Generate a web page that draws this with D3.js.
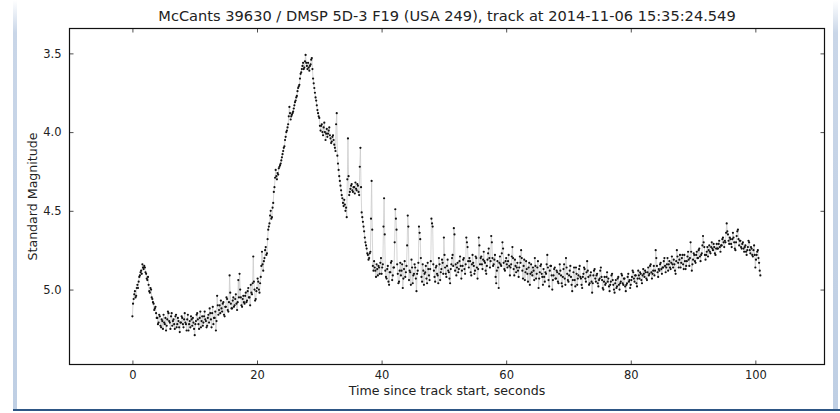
<!DOCTYPE html>
<html lang="en">
  <head>
    <meta charset="UTF-8" />
    <title>McCants 39630 track</title>
    <script src="https://cdn.jsdelivr.net/npm/d3@7"></script>
    <style>
      body { margin: 0; background: #fff; }
      text { font-family: "DejaVu Sans", sans-serif; fill: #222; }
    </style>
  </head>

  <body>
    <script>
      const width = 840;
      const height = 413;

      const title = "McCants 39630 / DMSP 5D-3 F19 (USA 249), track at 2014-11-06 15:35:24.549";
      const xLabel = "Time since track start, seconds";
      const yLabel = "Standard Magnitude";
      const xTicks = [0, 20, 40, 60, 80, 100];
      const yTicks = [3.5, 4.0, 4.5, 5.0];

      // samples are 0.1 s apart, starting at t = 0
      const sampleStart = 0;
      const sampleStep = 0.1;

      // magnitudes, one row per 2 seconds
      const magnitudes = [
        5.17, 5.09, 5.06, 5.03, 5.01, 5.05, 5.04, 4.99, 4.97, 4.99, 4.95, 4.92, 4.91, 4.89, 4.88, 4.90, 4.84, 4.86, 4.87, 4.85,
        4.86, 4.89, 4.90, 4.93, 4.94, 4.92, 4.97, 5.01, 5.02, 4.99, 5.00, 5.05, 5.06, 5.08, 5.09, 5.13, 5.12, 5.11, 5.15, 5.18,
        5.18, 5.22, 5.21, 5.16, 5.17, 5.23, 5.24, 5.19, 5.20, 5.25, 5.16, 5.21, 5.22, 5.18, 5.26, 5.23, 5.19, 5.14, 5.15, 5.20,
        5.21, 5.25, 5.17, 5.15, 5.23, 5.20, 5.19, 5.22, 5.25, 5.17, 5.16, 5.24, 5.22, 5.18, 5.20, 5.24, 5.27, 5.21, 5.21, 5.17,
        5.18, 5.22, 5.24, 5.19, 5.15, 5.21, 5.22, 5.26, 5.19, 5.16, 5.26, 5.22, 5.20, 5.24, 5.17, 5.19, 5.23, 5.18, 5.21, 5.25,
        5.29, 5.22, 5.20, 5.16, 5.15, 5.19, 5.22, 5.25, 5.18, 5.14, 5.24, 5.20, 5.17, 5.23, 5.21, 5.17, 5.14, 5.19, 5.20, 5.24,
        5.23, 5.18, 5.16, 5.21, 5.12, 5.15, 5.19, 5.24, 5.15, 5.11, 5.22, 5.18, 5.18, 5.14, 5.26, 5.20, 5.04, 5.10, 5.16, 5.13,
        5.10, 5.15, 5.07, 5.12, 5.14, 5.09, 5.08, 5.16, 5.17, 5.11, 5.11, 5.05, 5.06, 5.13, 5.14, 5.08, 4.91, 5.02, 5.09, 5.12,
        5.12, 5.07, 5.05, 5.11, 5.10, 5.06, 5.03, 5.09, 5.13, 5.08, 4.94, 5.05, 4.90, 5.00, 5.05, 5.10, 5.11, 5.06, 5.04, 5.08,
        5.09, 5.04, 5.02, 5.08, 5.07, 5.01, 4.99, 5.05, 5.05, 5.10, 4.97, 5.02, 5.03, 4.96, 4.79, 4.95, 5.00, 5.07, 5.06, 5.01,
        4.99, 4.93, 4.95, 5.00, 5.02, 4.96, 4.92, 4.85, 4.76, 4.84, 4.88, 4.82, 4.80, 4.75, 4.73, 4.78, 4.77, 4.68, 4.62, 4.60,
        4.58, 4.53, 4.50, 4.55, 4.54, 4.48, 4.45, 4.38, 4.35, 4.29, 4.24, 4.28, 4.30, 4.26, 4.27, 4.23, 4.22, 4.21, 4.20, 4.18,
        4.16, 4.14, 4.12, 4.10, 4.09, 4.05, 4.03, 4.00, 3.99, 3.97, 3.95, 3.90, 3.84, 3.88, 3.92, 3.90, 3.89, 3.88, 3.87, 3.85,
        3.83, 3.81, 3.80, 3.78, 3.77, 3.74, 3.72, 3.71, 3.70, 3.66, 3.63, 3.62, 3.60, 3.58, 3.56, 3.60, 3.59, 3.55, 3.51, 3.56,
        3.58, 3.60, 3.56, 3.59, 3.61, 3.58, 3.57, 3.54, 3.53, 3.60, 3.66, 3.69, 3.72, 3.75, 3.78, 3.80, 3.83, 3.86, 3.88, 3.90,
        3.91, 3.96, 3.99, 3.96, 3.95, 4.00, 4.02, 3.97, 3.94, 4.00, 4.05, 4.01, 3.98, 4.03, 4.01, 3.99, 3.97, 4.02, 4.04, 4.07,
        4.06, 4.03, 4.02, 4.05, 4.08, 4.10, 4.12, 3.95, 3.88, 4.15, 4.20, 4.24, 4.28, 4.31, 4.34, 4.37, 4.40, 4.42, 4.45, 4.47,
        4.43, 4.46, 4.50, 4.48, 4.54, 4.30, 4.04, 4.28, 4.40, 4.38, 4.36, 4.34, 4.33, 4.37, 4.38, 4.35, 4.35, 4.39, 4.32, 4.36,
        4.37, 4.33, 4.34, 4.38, 4.40, 4.22, 4.10, 4.35, 4.51, 4.54, 4.57, 4.60, 4.63, 4.67, 4.70, 4.72, 4.74, 4.77, 4.78, 4.81,
        4.80, 4.77, 4.76, 4.55, 4.31, 4.62, 4.85, 4.88, 4.82, 4.86, 4.88, 4.92, 4.84, 4.87, 4.91, 4.85, 4.86, 4.90, 4.83, 4.80,
        4.90, 4.86, 4.84, 4.60, 4.42, 4.65, 4.88, 4.92, 4.93, 4.87, 4.85, 4.95, 4.97, 4.89, 4.89, 4.83, 4.82, 4.94, 4.91, 4.86,
        4.86, 4.70, 4.49, 4.55, 4.62, 4.84, 4.90, 4.96, 4.95, 4.88, 4.83, 4.91, 4.88, 4.84, 4.99, 4.93, 4.87, 4.82, 4.92, 4.89,
        4.85, 4.72, 4.53, 4.60, 4.94, 4.88, 4.89, 4.97, 4.81, 4.86, 4.96, 4.91, 4.90, 4.84, 4.86, 4.93, 5.01, 4.90, 4.88, 4.83,
        4.60, 4.64, 4.68, 4.80, 4.92, 4.95, 4.84, 4.88, 4.97, 4.90, 4.89, 4.85, 4.93, 4.96, 4.83, 4.87, 4.91, 4.94, 4.87, 4.82,
        4.55, 4.58, 4.60, 4.84, 4.88, 4.92, 4.95, 4.86, 4.85, 4.90, 4.91, 4.96, 4.80, 4.84, 4.94, 4.89, 4.87, 4.81, 4.83, 4.90,
        4.67, 4.78, 4.86, 4.90, 4.92, 4.85, 4.81, 4.88, 4.89, 4.93, 4.96, 4.87, 4.84, 4.80, 4.78, 4.85, 4.61, 4.65, 4.88, 4.84,
        4.91, 4.86, 4.83, 4.89, 4.87, 4.82, 4.79, 4.85, 4.93, 4.88, 4.85, 4.81, 4.80, 4.87, 4.90, 4.84, 4.67, 4.70, 4.73, 4.82,
        4.86, 4.80, 4.82, 4.89, 4.91, 4.84, 4.78, 4.83, 4.85, 4.90, 4.88, 4.79, 4.80, 4.86, 4.93, 4.87, 4.67, 4.72, 4.84, 4.80,
        4.79, 4.84, 4.87, 4.81, 4.76, 4.82, 4.83, 4.88, 4.90, 4.85, 4.81, 4.77, 4.74, 4.80, 4.86, 4.82, 4.66, 4.70, 4.80, 4.85,
        4.84, 4.81, 4.78, 4.92, 4.96, 4.88, 4.82, 4.86, 4.99, 4.83, 4.79, 4.84, 4.85, 4.77, 4.70, 4.74, 4.83, 4.87, 4.88, 4.82,
        4.80, 4.84, 4.86, 4.82, 4.78, 4.85, 4.91, 4.86, 4.84, 4.79, 4.73, 4.80, 4.87, 4.91, 4.81, 4.85, 4.89, 4.86, 4.83, 4.88,
        4.92, 4.86, 4.79, 4.83, 4.75, 4.80, 4.88, 4.93, 4.85, 4.81, 4.94, 4.89, 4.82, 4.87, 4.90, 4.95, 4.86, 4.83, 4.97, 4.90,
        4.84, 4.89, 4.91, 4.86, 4.88, 4.94, 4.80, 4.85, 4.93, 4.90, 4.86, 4.82, 4.99, 4.93, 4.89, 4.85, 4.84, 4.90, 4.92, 4.97,
        4.87, 4.92, 4.95, 4.89, 4.90, 4.84, 4.78, 4.86, 4.94, 4.98, 4.88, 4.85, 4.85, 4.91, 5.00, 4.94, 4.91, 4.87, 4.86, 4.93,
        4.93, 4.88, 4.89, 4.95, 4.96, 4.90, 4.84, 4.88, 4.91, 4.96, 4.98, 4.92, 4.87, 4.84, 4.93, 4.97, 4.80, 4.86, 4.90, 4.94,
        4.95, 4.91, 4.88, 4.85, 4.92, 4.97, 5.01, 4.94, 4.89, 4.86, 4.94, 4.98, 4.86, 4.90, 4.97, 4.93, 4.91, 4.87, 4.85, 4.92,
        4.93, 4.97, 4.99, 4.92, 4.90, 4.86, 4.87, 4.93, 4.95, 4.89, 4.82, 4.88, 4.92, 4.97, 4.96, 4.91, 4.89, 4.95, 5.02, 4.96,
        4.91, 4.88, 4.87, 4.93, 4.95, 4.91, 4.90, 4.96, 4.98, 4.94, 4.93, 4.88, 4.86, 4.92, 4.94, 4.99, 5.00, 4.95, 4.92, 4.97,
        4.96, 4.92, 4.89, 4.95, 4.93, 4.98, 5.01, 4.97, 4.95, 4.91, 4.90, 4.94, 4.97, 5.00, 5.02, 4.96, 4.94, 4.99, 4.98, 4.93,
        4.92, 4.97, 5.00, 4.96, 4.95, 4.90, 4.91, 4.96, 4.97, 4.93, 4.93, 4.98, 5.01, 4.97, 4.96, 4.92, 4.90, 4.95, 4.94, 4.99,
        4.97, 4.94, 4.92, 4.88, 4.89, 4.93, 4.95, 4.91, 4.91, 4.96, 4.98, 4.93, 4.88, 4.91, 4.93, 4.89, 4.90, 4.94, 4.96, 4.91,
        4.87, 4.90, 4.92, 4.88, 4.89, 4.93, 4.94, 4.89, 4.86, 4.91, 4.90, 4.85, 4.84, 4.89, 4.93, 4.90, 4.88, 4.85, 4.91, 4.88,
        4.75, 4.80, 4.85, 4.89, 4.92, 4.87, 4.88, 4.84, 4.83, 4.87, 4.90, 4.86, 4.86, 4.82, 4.80, 4.85, 4.89, 4.86, 4.84, 4.80,
        4.88, 4.84, 4.82, 4.86, 4.87, 4.83, 4.79, 4.84, 4.86, 4.81, 4.84, 4.88, 4.90, 4.82, 4.75, 4.79, 4.83, 4.86, 4.81, 4.78,
        4.86, 4.83, 4.80, 4.78, 4.84, 4.87, 4.78, 4.82, 4.87, 4.85, 4.82, 4.79, 4.76, 4.81, 4.85, 4.80, 4.70, 4.76, 4.88, 4.84,
        4.81, 4.77, 4.78, 4.82, 4.83, 4.78, 4.76, 4.80, 4.80, 4.75, 4.74, 4.79, 4.82, 4.78, 4.77, 4.72, 4.66, 4.70, 4.73, 4.78,
        4.81, 4.78, 4.76, 4.73, 4.79, 4.75, 4.72, 4.76, 4.77, 4.73, 4.70, 4.74, 4.75, 4.71, 4.73, 4.77, 4.78, 4.74, 4.71, 4.74,
        4.74, 4.71, 4.69, 4.73, 4.76, 4.72, 4.72, 4.68, 4.67, 4.70, 4.73, 4.69, 4.70, 4.64, 4.58, 4.63, 4.65, 4.69, 4.71, 4.67,
        4.68, 4.71, 4.73, 4.68, 4.64, 4.67, 4.70, 4.74, 4.75, 4.70, 4.66, 4.63, 4.62, 4.68, 4.72, 4.69, 4.69, 4.73, 4.74, 4.71,
        4.70, 4.74, 4.76, 4.73, 4.72, 4.76, 4.78, 4.75, 4.73, 4.69, 4.70, 4.75, 4.77, 4.73, 4.74, 4.78, 4.79, 4.75, 4.72, 4.78,
        4.86, 4.81, 4.78, 4.76, 4.75, 4.80, 4.83, 4.88, 4.91,
      ];

      const points = magnitudes.map((m, i) => ({
        t: sampleStart + i * sampleStep,
        m,
      }));

      const plot = { left: 69.5, right: 824.5, top: 28.5, bottom: 364.5 };

      const x = d3.scaleLinear().domain([-10.1, 111.1]).range([plot.left, plot.right]);
      // magnitude axis is inverted: brighter (smaller) at the top
      const y = d3.scaleLinear().domain([3.342, 5.476]).range([plot.top, plot.bottom]);

      const svg = d3
        .select("body")
        .append("svg")
        .attr("width", width)
        .attr("height", height);

      // window frame around the figure
      const defs = svg.append("defs");
      const grad = defs
        .append("linearGradient")
        .attr("id", "edge")
        .attr("x1", 0).attr("x2", 0).attr("y1", 0).attr("y2", 1);
      grad.append("stop").attr("offset", 0).attr("stop-color", "#ffffff");
      grad.append("stop").attr("offset", 0.08).attr("stop-color", "#c9d6e8");
      grad.append("stop").attr("offset", 1).attr("stop-color", "#bfcfe4");

      svg.append("rect").attr("x", 13).attr("y", 0).attr("width", 4).attr("height", 410).attr("fill", "url(#edge)");
      svg.append("rect").attr("x", 833).attr("y", 0).attr("width", 5).attr("height", 410).attr("fill", "url(#edge)");
      svg.append("rect").attr("x", 13).attr("y", 409).attr("width", 827).attr("height", 2).attr("fill", "#2e5685");

      defs
        .append("clipPath")
        .attr("id", "plot-clip")
        .append("rect")
        .attr("x", plot.left)
        .attr("y", plot.top)
        .attr("width", plot.right - plot.left)
        .attr("height", plot.bottom - plot.top);

      const data = svg.append("g").attr("clip-path", "url(#plot-clip)");

      // thin grey line joining consecutive samples
      data
        .append("path")
        .datum(points)
        .attr("fill", "none")
        .attr("stroke", "#cccccc")
        .attr("stroke-width", 0.8)
        .attr("d", d3.line().x((d) => x(d.t)).y((d) => y(d.m)));

      data
        .selectAll("circle")
        .data(points)
        .join("circle")
        .attr("cx", (d) => x(d.t))
        .attr("cy", (d) => y(d.m))
        .attr("r", 1.1)
        .attr("fill", "#111");

      // axes, classic matplotlib style: ticks inward on all four sides
      const tickLen = 4;
      const bottomAxis = svg
        .append("g")
        .attr("transform", `translate(0,${plot.bottom})`)
        .call(d3.axisBottom(x).tickValues(xTicks).tickSize(-tickLen).tickPadding(8).tickFormat(d3.format("d")));
      const topAxis = svg
        .append("g")
        .attr("transform", `translate(0,${plot.top})`)
        .call(d3.axisTop(x).tickValues(xTicks).tickSize(-tickLen).tickFormat(""));
      const leftAxis = svg
        .append("g")
        .attr("transform", `translate(${plot.left},0)`)
        .call(d3.axisLeft(y).tickValues(yTicks).tickSize(-tickLen).tickPadding(8).tickFormat(d3.format(".1f")));
      const rightAxis = svg
        .append("g")
        .attr("transform", `translate(${plot.right},0)`)
        .call(d3.axisRight(y).tickValues(yTicks).tickSize(-tickLen).tickFormat(""));

      for (const a of [bottomAxis, topAxis, leftAxis, rightAxis]) {
        a.select(".domain").remove();
        a.selectAll(".tick line").attr("stroke", "#222").attr("stroke-width", 0.8);
        a.selectAll("text").attr("font-size", 11.5).attr("fill", "#222");
      }
      bottomAxis.selectAll("text").attr("dy", "0.6em");

      svg
        .append("rect")
        .attr("x", plot.left)
        .attr("y", plot.top)
        .attr("width", plot.right - plot.left)
        .attr("height", plot.bottom - plot.top)
        .attr("fill", "none")
        .attr("stroke", "#111")
        .attr("stroke-width", 1.2);

      svg
        .append("text")
        .attr("x", (plot.left + plot.right) / 2)
        .attr("y", 21)
        .attr("text-anchor", "middle")
        .attr("font-size", 14.6)
        .text(title);

      svg
        .append("text")
        .attr("x", (plot.left + plot.right) / 2)
        .attr("y", 395)
        .attr("text-anchor", "middle")
        .attr("font-size", 12.6)
        .text(xLabel);

      svg
        .append("text")
        .attr("transform", `translate(37,${(plot.top + plot.bottom) / 2}) rotate(-90)`)
        .attr("text-anchor", "middle")
        .attr("font-size", 12.6)
        .text(yLabel);
    </script>
  </body>
</html>
